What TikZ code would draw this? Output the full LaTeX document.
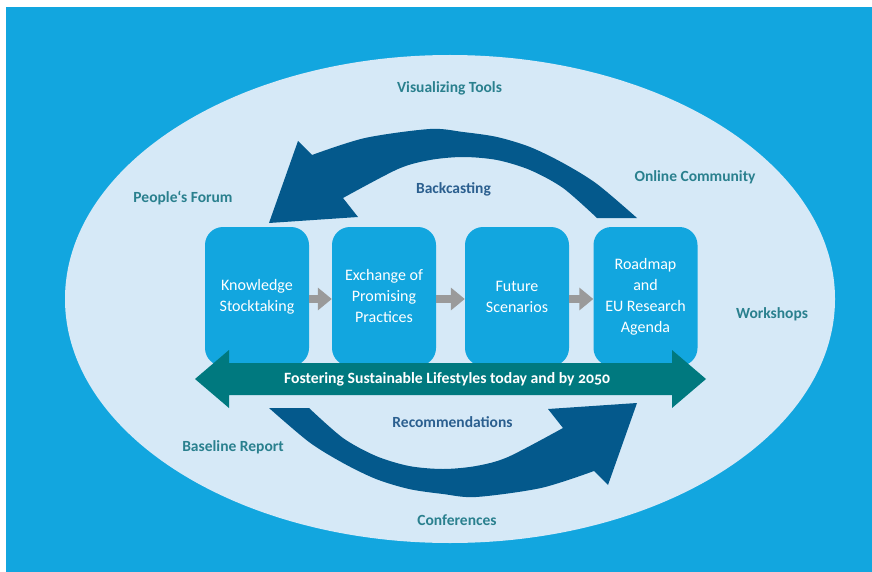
\documentclass[tikz,border=0pt]{standalone}
\usepackage{fontspec}
\setmainfont{Carlito}
\newfontfamily\osfont[Numbers=OldStyle]{Carlito}
\usetikzlibrary{arrows.meta}
\definecolor{bgblue}{HTML}{12A6DF}
\definecolor{ellfill}{HTML}{D6E9F7}
\definecolor{darkarrow}{HTML}{04598C}
\definecolor{tealarrow}{HTML}{00797F}
\definecolor{grayarr}{HTML}{9A9A9A}
\definecolor{labteal}{HTML}{2A808E}
\definecolor{labblue}{HTML}{2B5F8F}
\begin{document}
\begin{tikzpicture}[x=1pt,y=-1pt,
  stepbox/.style={fill=bgblue, rounded corners=18pt, minimum width=104pt, minimum height=139pt,
    align=center, text=white, font=\fontsize{16}{21}\selectfont, inner sep=0pt},
  outerlabel/.style={text=labteal, font=\bfseries\fontsize{15.5}{18}\selectfont, inner sep=0pt},
  innerlabel/.style={text=labblue, font=\bfseries\fontsize{15.5}{18}\selectfont, inner sep=0pt},
  grayarrow/.style={draw=grayarr, line width=8pt, -{Triangle[length=14pt,width=22pt]}},
  bigarrow/.style={fill=darkarrow},
  dblarrow/.style={fill=tealarrow}]
\useasboundingbox (0,0) rectangle (872,572);
\fill[bgblue] (6,7) rectangle (872,572);
\fill[ellfill] (450,299) ellipse [x radius=385, y radius=244];

% upper curved arrow (Backcasting)
\fill[bigarrow] (269,223) -- (298,141)
  -- plot[smooth] coordinates {(312,155) (365,138) (430,129) (463,132) (497,137) (530,147) (563,163) (597,184) (637,218)}
  -- (597,218)
  -- plot[smooth] coordinates {(597,218) (563,188) (530,170) (497,160) (463,157) (430,160) (398,169) (343,198)}
  -- (358,217) -- cycle;
% lower curved arrow (Recommendations)
\begin{scope}[rotate around={180:(453,313)}]
\fill[bigarrow] (269,223) -- (298,141)
  -- plot[smooth] coordinates {(312,155) (365,138) (430,129) (463,132) (497,137) (530,147) (563,163) (597,184) (637,218)}
  -- (597,218)
  -- plot[smooth] coordinates {(597,218) (563,188) (530,170) (497,160) (463,157) (430,160) (398,169) (343,198)}
  -- (358,217) -- cycle;
\end{scope}

% step boxes
\node[stepbox] (b1) at (257,296.5) {Knowledge\\Stocktaking};
\node[stepbox] (b2) at (384,296.5) {Exchange of\\Promising\\Practices};
\node[stepbox] (b3) at (517,296.5) {Future\\Scenarios};
\node[stepbox] (b4) at (645.5,296.5) {Roadmap\\and\\EU Research\\Agenda};

\coordinate (ga) at (0,299);
\draw[grayarrow] (b1.east |- ga) -- (b2.west |- ga);
\draw[grayarrow] (b2.east |- ga) -- (b3.west |- ga);
\draw[grayarrow] (b3.east |- ga) -- (b4.west |- ga);

% double arrow
\fill[dblarrow] (195,379) -- (229,350) -- (229,363) -- (672,363) -- (672,350) -- (706,379)
  -- (672,408) -- (672,395) -- (229,395) -- (229,408) -- cycle;
\node[text=white, font=\osfont\bfseries\fontsize{15.7}{18}\selectfont, inner sep=0pt] (lifestyles) at (447,379)
  {Fostering Sustainable Lifestyles today and by 2050};

% labels
\node[outerlabel] (vis) at (449.5,88) {Visualizing Tools};
\node[outerlabel] (online) at (695,177) {Online Community};
\node[outerlabel] (forum) at (183,198) {People‘s Forum};
\node[outerlabel] (work) at (772,314) {Workshops};
\node[outerlabel] (base) at (233,447) {Baseline Report};
\node[outerlabel] (conf) at (457,520) {Conferences};
\node[innerlabel] (back) at (453.5,189) {Backcasting};
\node[innerlabel] (rec) at (452.5,422) {Recommendations};
\end{tikzpicture}
\end{document}
